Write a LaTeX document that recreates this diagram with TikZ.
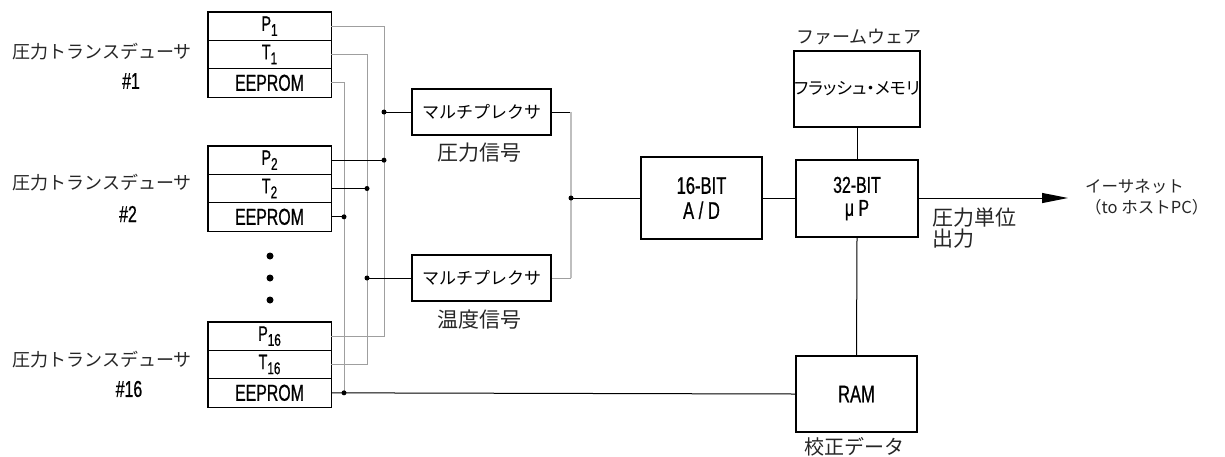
\documentclass[tikz,border=0pt]{standalone}
\usepackage{fontspec}
\setmainfont{Liberation Sans}
\newfontfamily\cond[FakeStretch=0.69,FakeBold=0.7]{Liberation Sans}
\newfontfamily\jp{Noto Sans CJK JP}
\newfontfamily\jpp[RawFeature=+palt]{Noto Sans CJK JP}
\usetikzlibrary{arrows.meta}
\newcommand\mysub[1]{\raisebox{-5pt}{\fontsize{17}{17}\selectfont #1}}
\newcommand\jfs[1]{\fontsize{#1}{#1}\selectfont}
\begin{document}
\begin{tikzpicture}[x=1pt,y=-1pt,
  cell/.style={draw, line width=0.8pt, minimum width=123pt, minimum height=28.33pt, inner sep=0pt, font=\cond\jfs{21}},
  blk/.style={draw, line width=1.8pt, inner sep=0pt, align=center, font=\cond\fontsize{24}{25}\selectfont},
  wire/.style={line width=1pt, black},
  gwire/.style={line width=1pt, gray!75},
  lgwire/.style={line width=1.2pt, gray!50},
  jdot/.style={circle, fill=black, inner sep=0pt, minimum size=5pt},
  sdot/.style={circle, fill=black, inner sep=0pt, minimum size=7pt},
  lab/.style={inner sep=0pt, text=black!85},
]
\useasboundingbox (0,0) rectangle (1225,456);

% transducer boxes
\foreach \n/\y in {1/12, 2/146, 16/322} {
  \node[cell] (p\n) at (269.5, \y+14.17) {P\mysub{\n}};
  \node[cell] (t\n) at (269.5, \y+42.5) {T\mysub{\n}};
  \node[cell, font=\cond\jfs{23}] (e\n) at (269.5, \y+70.83) {EEPROM};
  \draw[line width=1.8pt] (p\n.north west) rectangle (e\n.south east);
}

% transducer labels
\node[lab, font=\jp\jfs{18}] (l1) at (102,52) {圧力トランスデューサ};
\node[lab, font=\cond\jfs{23}, text=black] (n1) at (131,81) {\#1};
\node[lab, font=\jp\jfs{18}] (l2) at (102,183) {圧力トランスデューサ};
\node[lab, font=\cond\jfs{23}, text=black] (n2) at (128,214) {\#2};
\node[lab, font=\jp\jfs{18}] (l16) at (102,360) {圧力トランスデューサ};
\node[lab, font=\cond\jfs{23}, text=black] (n16) at (129,389) {\#16};

% vertical ellipsis
\node[sdot] (d1) at (270,256) {};
\node[sdot] (d2) at (270,278) {};
\node[sdot] (d3) at (270,300) {};

% multiplexers
\node[blk, minimum width=139pt, minimum height=46pt, font=\jp\jfs{17}] (mux1) at (481.5,112) {マルチプレクサ};
\node[blk, minimum width=139pt, minimum height=46pt, font=\jp\jfs{17}] (mux2) at (481.5,278) {マルチプレクサ};
\node[lab, font=\jp\jfs{21}] (ml1) at (479,153) {圧力信号};
\node[lab, font=\jp\jfs{21}] (ml2) at (479,320) {温度信号};

% processing blocks
\node[blk, minimum width=121pt, minimum height=82pt] (ad) at (701.5,198) {16-BIT\\A / D};
\node[blk, minimum width=122pt, minimum height=77pt, font=\cond\fontsize{23}{23}\selectfont] (cpu) at (857,198.5) {32-BIT\\μ P};
\node[blk, minimum width=122pt, minimum height=76pt, font=\jpp\jfs{17}] (flash) at (857,89) {フラッシュ・メモリ};
\node[blk, minimum width=121pt, minimum height=76pt] (ram) at (856.5,394) {RAM};
\node[lab, font=\jp\jfs{18}] (fw) at (859,37) {ファームウェア};
\node[lab, font=\jp\jfs{20}] (cal) at (854,447) {校正データ};
\node[lab, font=\jp\fontsize{21}{21}\selectfont, align=left, anchor=west] (unit) at (932,228) {圧力単位\\出力};
\node[lab, font=\jp\fontsize{16.5}{21}\selectfont, align=left, anchor=west] (eth) at (1085,197) {イーサネット\\（to ホストPC）};

% bus coordinates
\coordinate (px) at (384,0);
\coordinate (tx) at (367,0);
\coordinate (ex) at (344,0);
\coordinate (mx) at (571,0);

% gray buses
\draw[gwire] (p1.east) -- (p1.east -| px) -- (p16.east -| px) -- (p16.east);
\draw[gwire] (t1.east) -- (t1.east -| tx) -- (t16.east -| tx) -- (t16.east);
\draw[gwire] (e1.east) -- (e1.east -| ex) -- (e16.east -| ex);

% junctions
\node[jdot] (jm1) at (mux1.west -| px) {};
\node[jdot] (jp2) at (p2.east -| px) {};
\node[jdot] (jt2) at (t2.east -| tx) {};
\node[jdot] (jm2) at (mux2.west -| tx) {};
\node[jdot] (je2) at (e2.east -| ex) {};
\node[jdot] (je16) at (e16.east -| ex) {};

\draw[wire] (jm1.center) -- (mux1.west);
\draw[wire] (p2.east) -- (jp2.center);
\draw[wire] (t2.east) -- (jt2.center);
\draw[wire] (jm2.center) -- (mux2.west);
\draw[wire] (e2.east) -- (je2.center);
\draw[wire] (e16.east) -- (ram.west);

% mux outputs
\coordinate (m1o) at (mux1.east -| mx);
\coordinate (m2o) at (mux2.east -| mx);
\draw[wire] (mux1.east) -- (m1o);
\draw[lgwire] (m1o) -- (m2o);
\draw[gwire] (m2o) -- (mux2.east);
\node[jdot] (jad) at (ad.west -| mx) {};
\draw[wire] (jad.center) -- (ad.west);

% processor connections
\draw[wire] (ad.east) -- (cpu.west |- ad.east);
\draw[wire] (flash.south) -- (cpu.north);
\draw[wire] (cpu.south) -- (ram.north);
\coordinate (tip) at (1068,198);
\draw[wire, -{Triangle[length=26pt,width=10pt]}] (cpu.east |- tip) -- (tip);
\end{tikzpicture}
\end{document}
